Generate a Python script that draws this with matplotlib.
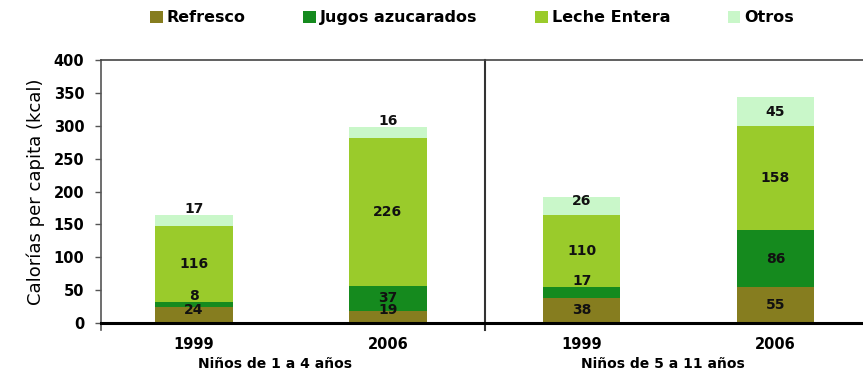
import matplotlib.pyplot as plt
import numpy as np

plt.rcParams['font.family'] = ['DejaVu Sans']

# datos
years = ["1999", "2006", "1999", "2006"]
groups = ["Niños de 1 a 4 años", "Niños de 5 a 11 años"]
series = ["Refresco", "Jugos azucarados", "Leche Entera", "Otros"]
refresco = [24, 19, 38, 55]
jugos = [8, 37, 17, 86]
leche = [116, 226, 110, 158]
otros = [17, 16, 26, 45]
colors = ["#867d1f", "#158a1e", "#9acb2b", "#c9f7c9"]

fig = plt.figure(figsize=(8.63, 3.82), dpi=100)
ax = fig.add_axes([0.117, 0.154, 0.885, 0.689])

x = np.arange(len(years))
bottom = np.zeros(len(years))
for name, vals, col in zip(series, [refresco, jugos, leche, otros], colors):
    vals = np.array(vals, dtype=float)
    ax.bar(x, vals, 0.40, bottom=bottom, color=col, label=name, zorder=2)
    for xi, b, h in zip(x, bottom, vals):
        y = max(b + h / 2, b + 20)
        if h < 20 and b > 0:
            y = b + h + 9
        ax.text(xi, y, f"{int(h)}", ha="center", va="center",
                fontsize=10, fontweight="bold", color="#111111", zorder=3)
    bottom += vals

ax.set_ylim(0, 400)
ax.set_xlim(-0.48, 3.46)
ax.set_yticks(range(0, 401, 50))
ax.set_xticks(x)
ax.set_xticklabels(years)
ax.tick_params(axis="y", length=4, width=1, pad=8, labelsize=10.5, color="#555555")
ax.tick_params(axis="x", length=0, pad=10, labelsize=10.5)
for lab in ax.get_xticklabels() + ax.get_yticklabels():
    lab.set_fontweight("bold")

ax.spines["right"].set_visible(False)
ax.spines["top"].set_color("#444444")
ax.spines["top"].set_linewidth(1.2)
ax.spines["left"].set_color("#555555")
ax.spines["left"].set_linewidth(1.2)
ax.spines["bottom"].set_linewidth(2.2)
ax.spines["bottom"].set_zorder(4)

# separador de grupos
ax.axvline(1.5, ymin=-0.025, ymax=1, color="#333333", lw=1.5, clip_on=False, zorder=1)
ax.axvline(-0.48, ymin=-0.025, ymax=0, color="#555555", lw=1.2, clip_on=False)

for gi, g in enumerate(groups):
    ax.text(gi * 2 + 0.42, -0.155, g, transform=ax.get_xaxis_transform(),
            ha="center", va="center", fontsize=10, fontweight="bold")

ax.set_ylabel("Calorías per capita (kcal)", fontsize=13, labelpad=6)

fig.legend(loc="center", bbox_to_anchor=(0.547, 0.953), ncol=4, frameon=False,
           handlelength=0.8, handleheight=0.8, handletextpad=0.25,
           columnspacing=3.6, prop={"weight": "bold", "size": 11.5})

fig.savefig("out.png", dpi=100, facecolor="white")
